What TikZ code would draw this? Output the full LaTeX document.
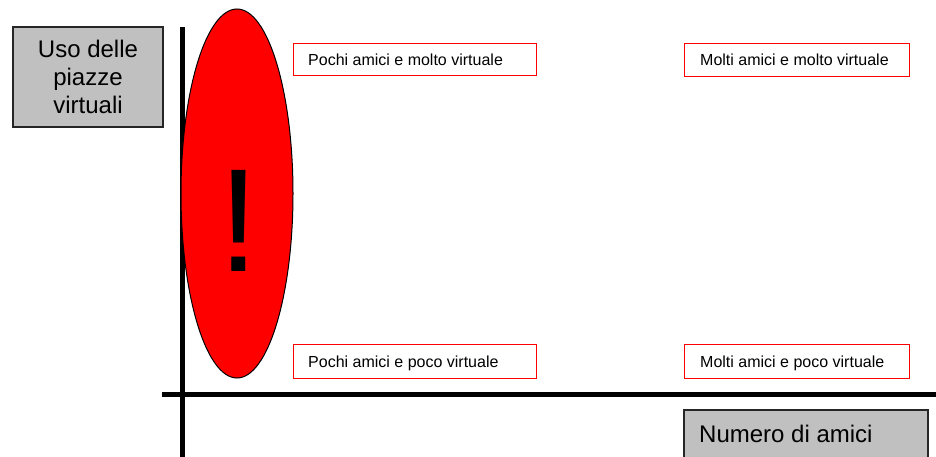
\documentclass[tikz,border=0pt]{standalone}
\usepackage{fontspec}
\setmainfont{Liberation Sans}
\begin{document}
\begin{tikzpicture}[x=1pt,y=-1pt,
  graybox/.style={draw=black!85, fill={rgb,255:red,192;green,192;blue,192}, line width=1.3pt},
  redbox/.style={draw=red, line width=1pt, fill=white, inner sep=0pt},
  axisline/.style={line width=5pt, black},
  small/.style={font=\fontsize{16}{19}\selectfont, anchor=base west, inner sep=0pt},
  big/.style={font=\fontsize{24}{28}\selectfont},
]
\useasboundingbox (0,0) rectangle (936,457);
\fill[white] (0,0) rectangle (936,457);
% axes
\coordinate (ytop) at (182,27);
\coordinate (ybot) at (182,457);
\coordinate (xl) at (162,394);
\coordinate (xr) at (936,394);
\draw[axisline] (ytop) -- (ybot);
\draw[axisline] (xl) -- (xr);
% ellipse
\draw[fill=red, line width=1pt] (237,193.5) ellipse [x radius=56, y radius=184.5];
\node[anchor=base, font=\fontsize{147}{147}\selectfont, inner sep=0pt] (excl) at (238.5,271) {!};
% axis labels
\node[graybox, big, minimum width=150pt, minimum height=100pt, align=center, inner sep=0pt] (ylab) at (88,77) {Uso delle\\piazze\\virtuali};
\draw[graybox] (684,410) rectangle (928,470);
\node[big, anchor=base west, inner sep=0pt] (xlab) at (699,442) {Numero di amici};
% quadrant boxes
\node[redbox, anchor=north west, minimum width=243pt, minimum height=32pt] (b1) at (293,43) {};
\node[small] (t1) at (308,65.5) {Pochi amici e molto virtuale};
\node[redbox, anchor=north west, minimum width=225pt, minimum height=33pt] (b2) at (684,43) {};
\node[small] (t2) at (700,65.5) {Molti amici e molto virtuale};
\node[redbox, anchor=north west, minimum width=243pt, minimum height=34pt] (b3) at (293,344) {};
\node[small] (t3) at (308,367) {Pochi amici e poco virtuale};
\node[redbox, anchor=north west, minimum width=225pt, minimum height=34pt] (b4) at (684,344) {};
\node[small] (t4) at (700,367) {Molti amici e poco virtuale};
\end{tikzpicture}
\end{document}
